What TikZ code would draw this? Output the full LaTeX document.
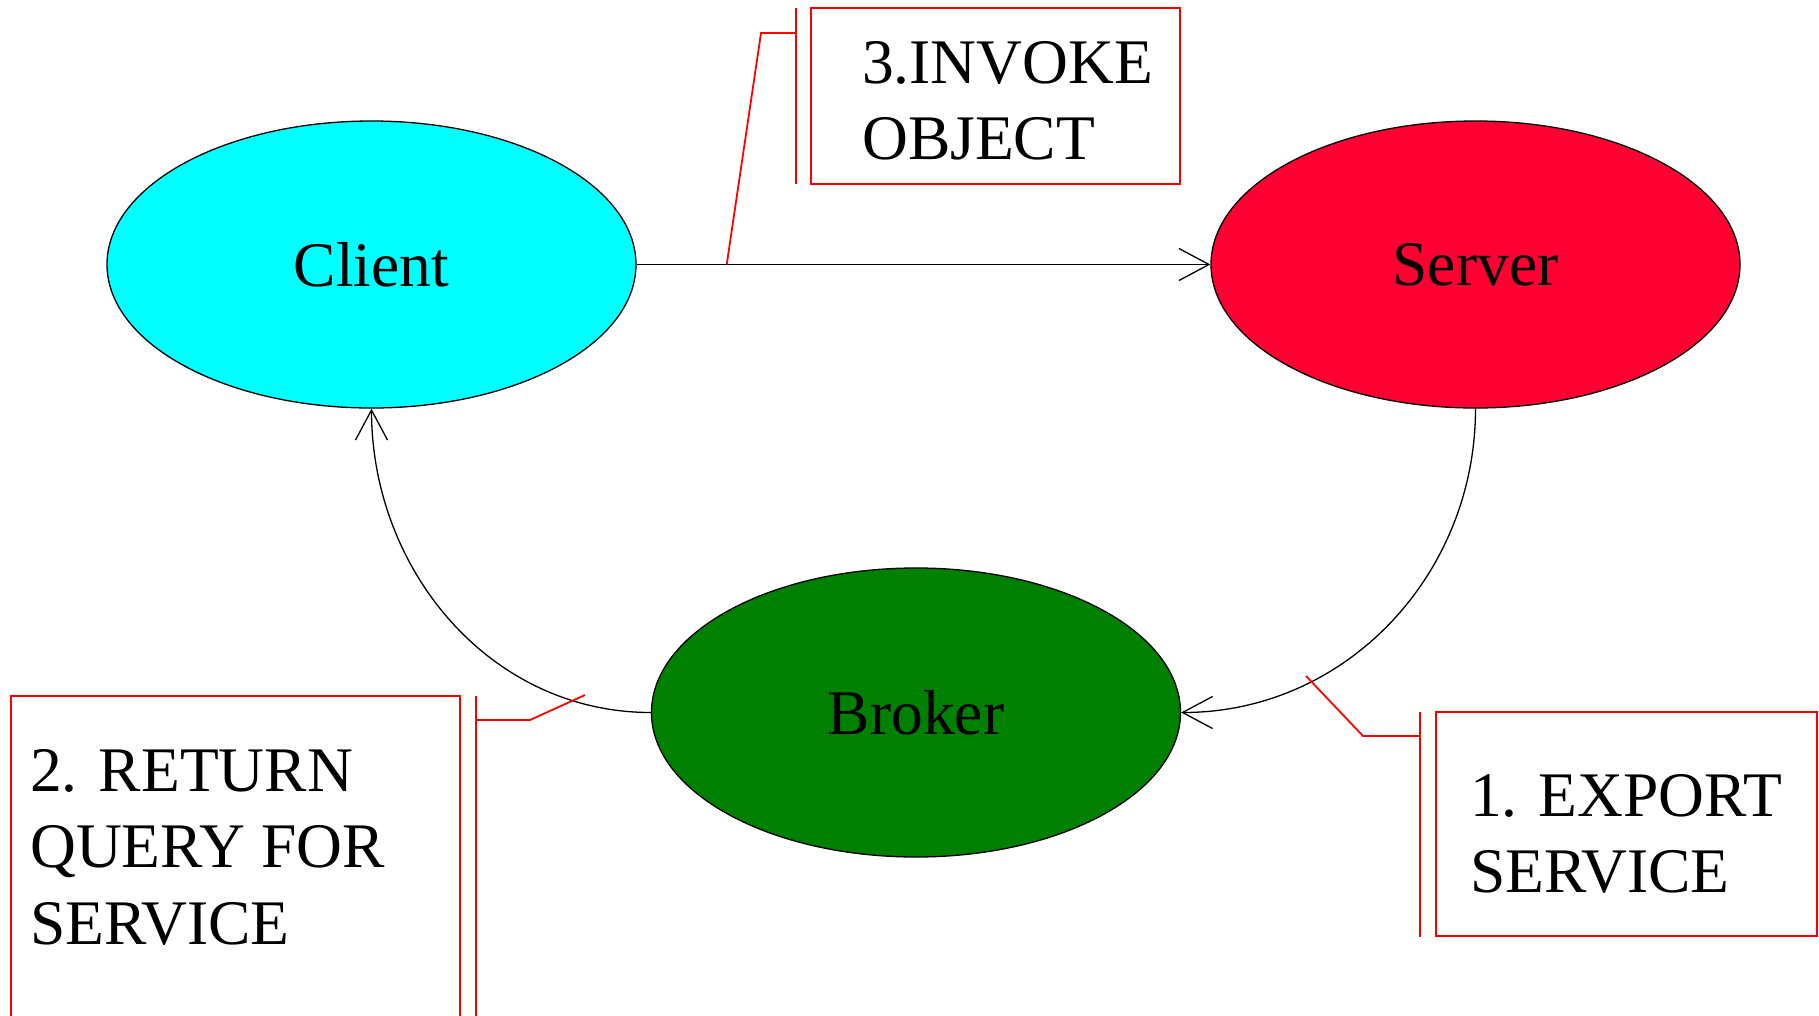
\documentclass[tikz,border=0pt]{standalone}
\usepackage{fontspec}
\setmainfont{Liberation Serif}
\usetikzlibrary{shapes.geometric,arrows.meta}
\definecolor{clientfill}{RGB}{0,255,255}
\definecolor{serverfill}{RGB}{255,0,51}
\definecolor{brokerfill}{RGB}{0,128,0}
\definecolor{notered}{RGB}{255,0,0}

\begin{document}
\begin{tikzpicture}[x=1pt,y=-1pt,
  big/.style={font=\fontsize{63.5}{76.5}\selectfont},
  actor/.style={ellipse, draw=black, line width=1.3pt, minimum width=529pt,
    minimum height=287pt, inner sep=0pt, big},
  flow/.style={line width=1.3pt, -{Straight Barb[length=30pt,width=32pt]}},
  notebox/.style={draw=notered, line width=1.8pt, rectangle, inner sep=0pt,
    outer sep=0pt, anchor=north west},
  noteline/.style={draw=notered, line width=1.8pt},
  notetext/.style={big, anchor=base west, inner sep=0pt}]
\useasboundingbox (0,0) rectangle (1819,1015);
\clip (0,0) rectangle (1819,1015);

% the three parties
\node[actor, fill=clientfill] (client) at (371.5,264.5) {Client};
\node[actor, fill=serverfill] (server) at (1475.5,264.5) {Server};
\node[actor, fill=brokerfill, minimum height=289pt] (broker) at (916,712.5) {Broker};

% message flows
\draw[flow] (client.east) -- coordinate[pos=0.157] (invokehit) (server.west);
\draw[flow] (server.south) to[out=-90,in=0] (broker.east);
\draw[flow] (broker.west) to[out=180,in=-90] (client.south);

% note boxes
\node[notebox, minimum width=369pt, minimum height=176pt] (invokebox) at (811,8) {};
\node[notebox, minimum width=449pt, minimum height=400pt] (returnbox) at (11,696) {};
\node[notebox, minimum width=381pt, minimum height=224pt] (exportbox) at (1436,712) {};

\node[notetext] (invoketext) at (862,83)
  {\begin{tabular}[t]{@{}l@{}}3.INVOKE\\OBJECT\end{tabular}};
\node[notetext] (returntext) at (30,791)
  {\begin{tabular}[t]{@{}l@{}}2. RETURN\\QUERY FOR\\SERVICE\end{tabular}};
\node[notetext] (exporttext) at (1470,816)
  {\begin{tabular}[t]{@{}l@{}}1. EXPORT\\SERVICE\end{tabular}};

% note brackets and leaders
\coordinate (invokebar) at (796,33);
\coordinate (returnbar) at (476,720);
\coordinate (exportbar) at (1420,736);
\coordinate (returnhit) at (585,695);
\coordinate (exporthit) at (1306,676);

\draw[noteline] (796,8) -- (796,184);
\draw[noteline] (476,696) -- (476,1030);
\draw[noteline] (1420,712) -- (1420,937);

\draw[noteline] (invokebar) -- (761,33) -- (invokehit);
\draw[noteline] (returnbar) -- (530,720) -- (returnhit);
\draw[noteline] (exportbar) -- (1363,736) -- (exporthit);
\end{tikzpicture}
\end{document}
